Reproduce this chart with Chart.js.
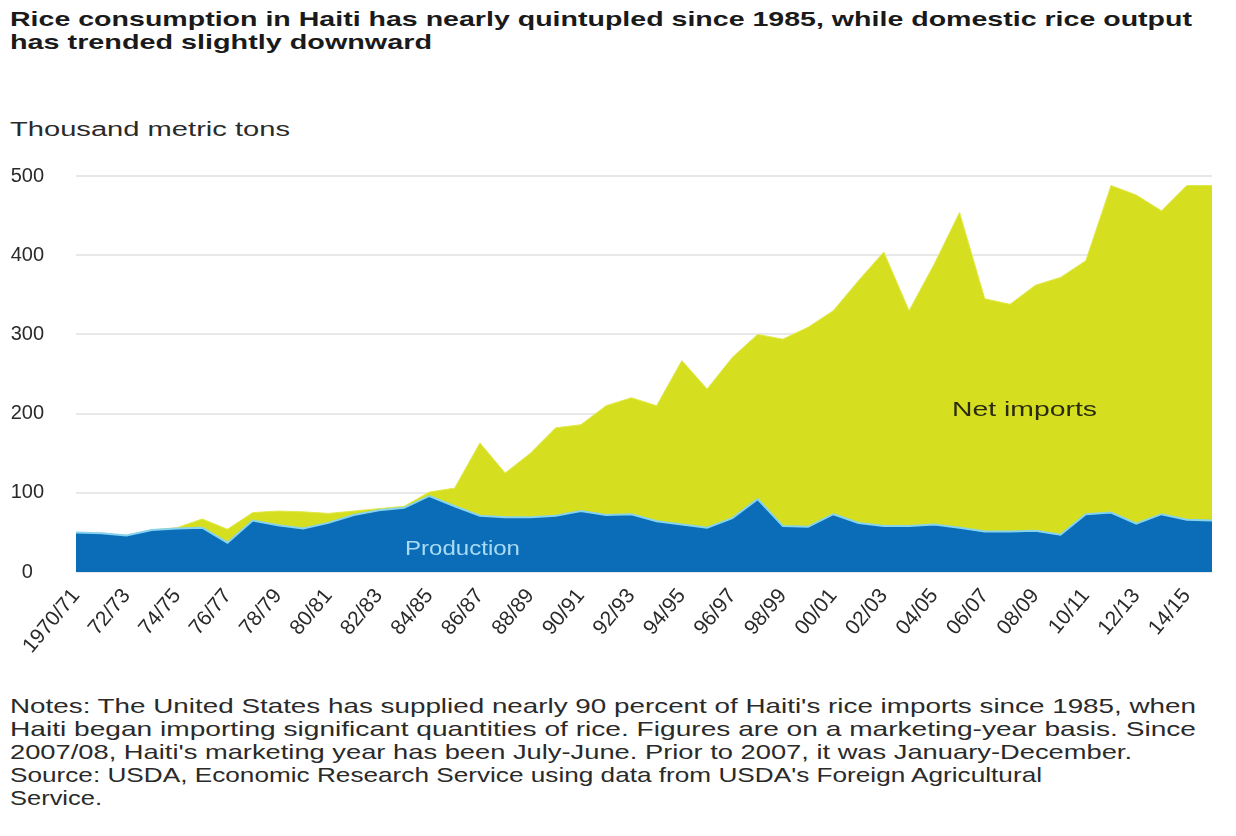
<!DOCTYPE html>
<html>
<head>
<meta charset="utf-8">
<script src="https://cdn.jsdelivr.net/npm/chart.js@4.4.1/dist/chart.umd.min.js"></script>
<style>
  html, body { margin: 0; padding: 0; background: #fff; }
  body { width: 1236px; height: 836px; position: relative; overflow: hidden; font-family: "Liberation Sans", Arial, sans-serif; color: #222; }
  .line { position: absolute; left: 10px; white-space: nowrap; transform-origin: 0 50%; }
  .title { font-weight: bold; font-size: 21px; color: #1a1a1a; }
  .note { font-size: 21px; color: #2a2a2a; }
  #wrap { position: absolute; left: 0; top: 132px; width: 1236px; height: 528px; }
  .lbl { position: absolute; white-space: nowrap; transform-origin: 0 50%; }
</style>
</head>
<body>
<div class="line title" style="top:7px" data-w="1182">Rice consumption in Haiti has nearly quintupled since 1985, while domestic rice output</div>
<div class="line title" style="top:30px" data-w="422">has trended slightly downward</div>
<div class="line note" style="top:118px;font-size:20px" data-w="280">Thousand metric tons</div>

<div id="wrap"><canvas id="riceChart"></canvas></div>

<div class="lbl" style="left:405px;top:536px;font-size:21px;color:#a9dcf3" data-w="115">Production</div>
<div class="lbl" style="left:952px;top:398px;font-size:20px;color:#2b2b10" data-w="145">Net imports</div>

<div class="line note" style="top:694px" data-w="1186">Notes: The United States has supplied nearly 90 percent of Haiti's rice imports since 1985, when</div>
<div class="line note" style="top:717px" data-w="1186">Haiti began importing significant quantities of rice. Figures are on a marketing-year basis. Since</div>
<div class="line note" style="top:740px" data-w="1122">2007/08, Haiti's marketing year has been July-June. Prior to 2007, it was January-December.</div>
<div class="line note" style="top:763px" data-w="1032">Source: USDA, Economic Research Service using data from USDA's Foreign Agricultural</div>
<div class="line note" style="top:786px" data-w="92">Service.</div>

<script>
// marketing years, 1970/71 .. 2015/16
const years = [
    '1970/71','71/72','72/73','73/74','74/75','75/76','76/77','77/78','78/79','79/80',
    '80/81','81/82','82/83','83/84','84/85','85/86','86/87','87/88','88/89','89/90',
    '90/91','91/92','92/93','93/94','94/95','95/96','96/97','97/98','98/99','99/00',
    '00/01','01/02','02/03','03/04','04/05','05/06','06/07','07/08','08/09','09/10',
    '10/11','11/12','12/13','13/14','14/15','15/16'
];

// thousand metric tons
const production = [
    50, 49, 46, 53, 55, 56, 37, 65, 59, 55,
    62, 72, 78, 81, 96, 83, 71, 69, 69, 71,
    77, 72, 73, 64, 60, 56, 68, 92, 58, 57,
    73, 62, 58, 58, 60, 56, 51, 51, 52, 47,
    73, 75, 61, 73, 66, 65
];

const netImports = [
    0, 0, 0, 0, 1, 11, 17, 10, 18, 21,
    12, 5, 2, 2, 5, 23, 92, 56, 81, 111,
    109, 138, 147, 146, 207, 175, 203, 208, 236, 252,
    257, 306, 346, 272, 329, 398, 294, 287, 310, 325,
    320, 413, 415, 383, 422, 423
];

const yTicks = [0, 100, 200, 300, 400, 500];

// stretch the html text lines to the widths seen in the picture
document.querySelectorAll('[data-w]').forEach(el => {
    const w = el.getBoundingClientRect().width;
    el.style.transform = 'scaleX(' + (parseFloat(el.dataset.w) / w) + ')';
});

const ctx = document.getElementById('riceChart').getContext('2d');
new Chart(ctx, {
    type: 'line',
    data: {
        labels: years,
        datasets: [
            {
                label: 'Production',
                data: production,
                fill: 'origin',
                backgroundColor: '#0b6db8',
                borderColor: '#86d3ee',
                borderWidth: 2,
                pointRadius: 0,
                tension: 0,
                order: 1
            },
            {
                label: 'Net imports',
                data: netImports,
                fill: '-1',
                backgroundColor: '#d6df1f',
                borderColor: '#e1e84a',
                borderWidth: 1,
                pointRadius: 0,
                tension: 0,
                order: 2
            }
        ]
    },
    options: {
        responsive: true,
        maintainAspectRatio: false,
        animation: false,
        layout: { padding: { top: 8, right: 24, left: 0, bottom: 0 } },
        plugins: {
            legend: { display: false },
            tooltip: { enabled: false }
        },
        scales: {
            x: {
                offset: false,
                grid: { display: false },
                border: { display: false },
                afterFit: function (scale) { scale.height = 88; },
                ticks: {
                    autoSkip: false,
                    minRotation: 50,
                    maxRotation: 50,
                    padding: 4,
                    color: '#2a2a2a',
                    font: { family: '"Liberation Sans", Arial, sans-serif', size: 21 },
                    callback: function (val, i) { return i % 2 === 0 ? years[i] : ''; }
                }
            },
            y: {
                stacked: true,
                min: 0,
                max: 500,
                afterFit: function (scale) { scale.width = 76; },
                afterBuildTicks: function (scale) {
                    scale.ticks = yTicks.map(v => ({ value: v }));
                },
                grid: { color: '#e8e8e8', lineWidth: 2, drawTicks: false },
                border: { display: false },
                ticks: {
                    crossAlign: 'center',
                    padding: 32,
                    color: '#2a2a2a',
                    font: { family: '"Liberation Sans", Arial, sans-serif', size: 20 }
                }
            }
        }
    }
});
</script>
</body>
</html>
